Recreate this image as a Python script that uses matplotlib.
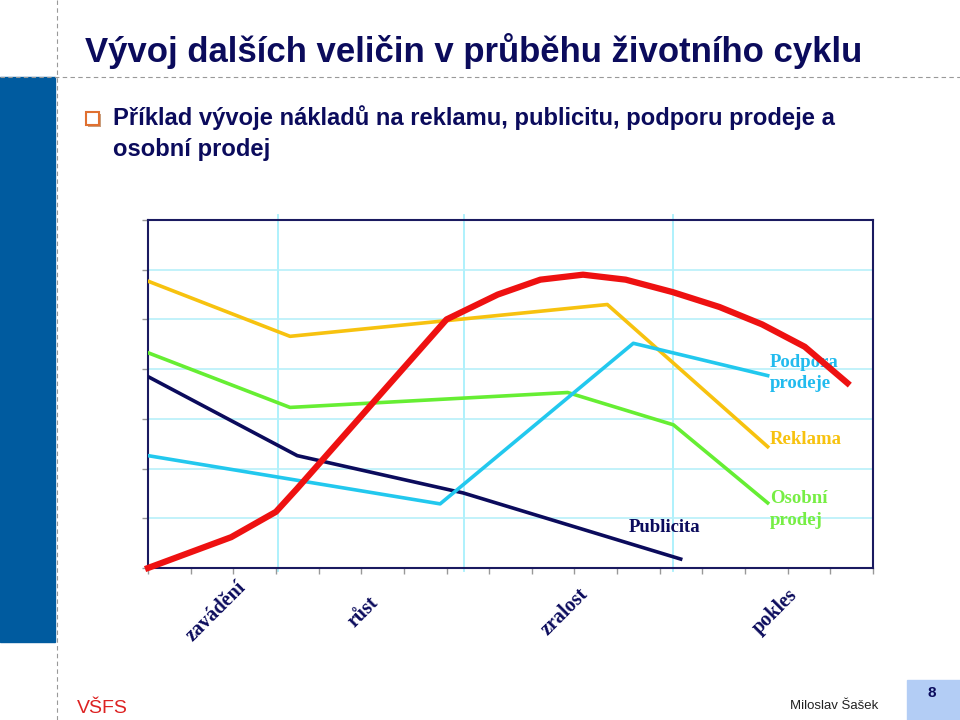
import numpy as np
import matplotlib.pyplot as plt
from matplotlib.patches import Rectangle
from matplotlib.lines import Line2D

# data (x: 0..17 time ticks, y: 0..7 grid units)
red_x = [0, 1.95, 3.0, 3.5, 7.0, 8.2, 9.2, 10.2, 11.2, 12.3, 13.4, 14.4, 15.4, 16.4]
red_y = [0, 0.62, 1.13, 1.6, 5.0, 5.5, 5.8, 5.9, 5.8, 5.55, 5.25, 4.9, 4.45, 3.72]

reklama_x = [0, 3.33, 10.77, 14.53]
reklama_y = [5.77, 4.66, 5.30, 2.44]

osobni_x = [0, 3.33, 9.84, 12.32, 14.53]
osobni_y = [4.33, 3.23, 3.53, 2.88, 1.31]

publicita_x = [0, 3.5, 7.39, 12.49]
publicita_y = [3.85, 2.26, 1.51, 0.18]

podpora_x = [0, 6.85, 11.38, 14.53]
podpora_y = [2.26, 1.29, 4.52, 3.87]

phase_bounds = [3.05, 7.4, 12.3]
phases = ['zavádění', 'růst', 'zralost', 'pokles']
phase_pos = [1.6, 5.05, 9.77, 14.7]

navy = '#0b0b5c'
c_red = '#ee1111'
c_orange = '#f7c20f'
c_green = '#66ee33'
c_cyan = '#22c8ee'

fig = plt.figure(figsize=(9.6, 7.2), dpi=100)
fig.patch.set_facecolor('white')

# slide decoration
fig.patches.append(Rectangle((0, 1 - 642 / 720), 55 / 960, (642 - 77) / 720,
                             transform=fig.transFigure, color='#005b9f', zorder=0))
fig.lines.append(Line2D([57 / 960, 57 / 960], [0, 1], transform=fig.transFigure,
                        color='#999999', lw=0.8, ls=(0, (4, 3))))
fig.lines.append(Line2D([0, 1], [1 - 77 / 720, 1 - 77 / 720], transform=fig.transFigure,
                        color='#999999', lw=0.8, ls=(0, (4, 3))))

fig.text(85 / 960, 1 - 62 / 720, 'Vývoj dalších veličin v průběhu životního cyklu',
         fontsize=25, fontweight='bold', color=navy, family='Liberation Sans', va='baseline')
fig.patches.append(Rectangle((88 / 960, 1 - 127 / 720), 13 / 960, 13 / 720,
                             transform=fig.transFigure, fc='#c9a080', ec='none', zorder=1))
fig.patches.append(Rectangle((86 / 960, 1 - 125 / 720), 13 / 960, 13 / 720,
                             transform=fig.transFigure, fc='white', ec='#e07030', lw=1.5, zorder=2))
fig.text(113 / 960, 1 - 125 / 720,
         'Příklad vývoje nákladů na reklamu, publicitu, podporu prodeje a',
         fontsize=17.1, fontweight='bold', color=navy, family='Liberation Sans', va='baseline')
fig.text(113 / 960, 1 - 156 / 720, 'osobní prodej',
         fontsize=17.1, fontweight='bold', color=navy, family='Liberation Sans', va='baseline')

# footer
fig.text(77 / 960, 1 - 713 / 720, 'VŠFS', fontsize=14, color='#dd2222',
         family='Liberation Sans', va='baseline')
fig.text(790 / 960, 1 - 709 / 720, 'Miloslav Šašek', fontsize=9.5, color='#222222',
         family='Liberation Sans', va='baseline')
fig.patches.append(Rectangle((907 / 960, 0), 53 / 960, 40 / 720,
                             transform=fig.transFigure, color='#b3cdf5', zorder=0))
fig.text(932 / 960, 1 - 693 / 720, '8', fontsize=11, fontweight='bold', color=navy,
         family='Liberation Sans', ha='center', va='center')

# chart
ax = fig.add_axes([148 / 960, 1 - 568 / 720, 725 / 960, 348 / 720])
ax.set_xlim(0, 17)
ax.set_ylim(0, 7)
ax.set_xticks(np.arange(0, 18))
ax.set_yticks(np.arange(0, 8))
ax.tick_params(labelbottom=False, labelleft=False, length=4, color='#999999', width=1)
ax.yaxis.grid(True, color='#b8f0fa', lw=1.2)
for s in ax.spines.values():
    s.set_color('#1a1a60')
    s.set_linewidth(1.5)

for b in phase_bounds:
    ax.axvline(b, ymin=-0.01, ymax=1.015, color='#a8f0fc', lw=1.3, clip_on=False, zorder=1)

ax.plot(reklama_x, reklama_y, color=c_orange, lw=2.6, zorder=3)
ax.plot(osobni_x, osobni_y, color=c_green, lw=2.6, zorder=3)
ax.plot(publicita_x, publicita_y, color=navy, lw=2.6, zorder=3)
ax.plot(podpora_x, podpora_y, color=c_cyan, lw=2.6, zorder=3)
ax.plot(red_x, red_y, color=c_red, lw=4.5, zorder=6, clip_on=False)

serif = 'Liberation Serif'
ax.text(14.58, 3.92, 'Podpora\nprodeje', color='#22bbee', fontsize=13.5, fontweight='bold',
        family=serif, va='center', linespacing=1.35, zorder=5)
ax.text(14.58, 2.58, 'Reklama', color=c_orange, fontsize=13.5, fontweight='bold',
        family=serif, va='center', zorder=5)
ax.text(14.58, 1.18, 'Osobní\nprodej', color='#77ee44', fontsize=13.5, fontweight='bold',
        family=serif, va='center', linespacing=1.35, zorder=5)
ax.text(12.11, 0.81, 'Publicita', color=navy, fontsize=13.5, fontweight='bold',
        family=serif, ha='center', va='center', zorder=5)

for name, xp in zip(phases, phase_pos):
    ax.annotate(name, (xp, -0.126), xycoords=('data', 'axes fraction'), rotation=45,
                ha='center', va='center', rotation_mode='anchor', fontsize=14.5,
                fontweight='bold', color=navy, family=serif, annotation_clip=False)

fig.savefig('out.png', dpi=100)
